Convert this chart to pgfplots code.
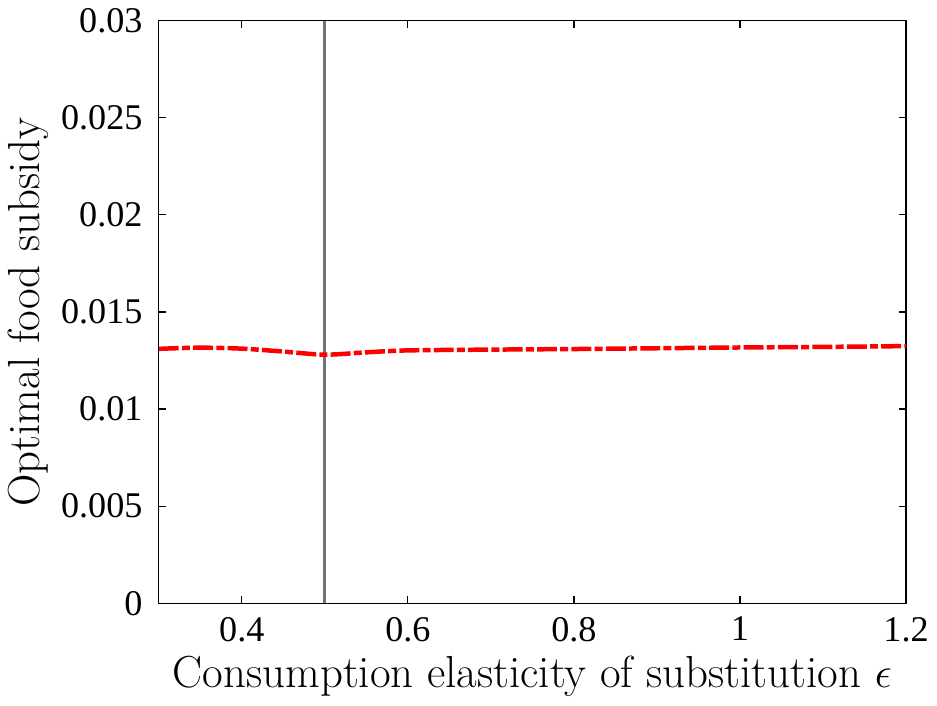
\documentclass[border=0pt]{standalone}
\usepackage{fontspec}
\usepackage{pgfplots}
\pgfplotsset{compat=1.18}
\newfontfamily\tickfont{Liberation Serif}

\begin{document}
\begin{tikzpicture}
\begin{axis}[
    width=299.6pt,
    height=233.6pt,
    scale only axis,
    xmin=0.3, xmax=1.2,
    ymin=0, ymax=0.03,
    scaled x ticks=false,
    scaled y ticks=false,
    xtick={0.4,0.6,0.8,1,1.2},
    xticklabels={0.4,0.6,0.8,1,1.2},
    ytick={0,0.005,0.01,0.015,0.02,0.025,0.03},
    yticklabels={0,0.005,0.01,0.015,0.02,0.025,0.03},
    tick align=inside,
    major tick length=2.8pt,
    axis line style={black, line width=0.5pt},
    every tick/.style={black, line width=0.5pt},
    tick label style={font=\fontsize{14.5}{16}\tickfont},
    xticklabel style={yshift=-2pt},
    yticklabel style={xshift=-3pt},
    label style={font=\fontsize{18}{20}\selectfont},
    xlabel={Consumption elasticity of substitution $\epsilon$},
    ylabel={Optimal food subsidy},
    xlabel style={yshift=1pt},
    ylabel style={yshift=-2pt},
    clip=true,
]
\addplot[color=black!55, line width=1.1pt] coordinates {(0.5,0) (0.5,0.03)};
\addplot[red, line width=1.8pt, smooth, dash pattern=on 8pt off 1.3pt on 3.2pt off 1.3pt]
    coordinates {
    (0.30,0.01310) (0.35,0.01316) (0.40,0.01311) (0.45,0.01296) (0.50,0.01280)
    (0.55,0.01292) (0.60,0.01302) (0.70,0.01306) (0.80,0.01309) (0.90,0.01313)
    (1.00,0.01317) (1.10,0.01320) (1.20,0.01324)
    };
\end{axis}
\end{tikzpicture}
\end{document}
